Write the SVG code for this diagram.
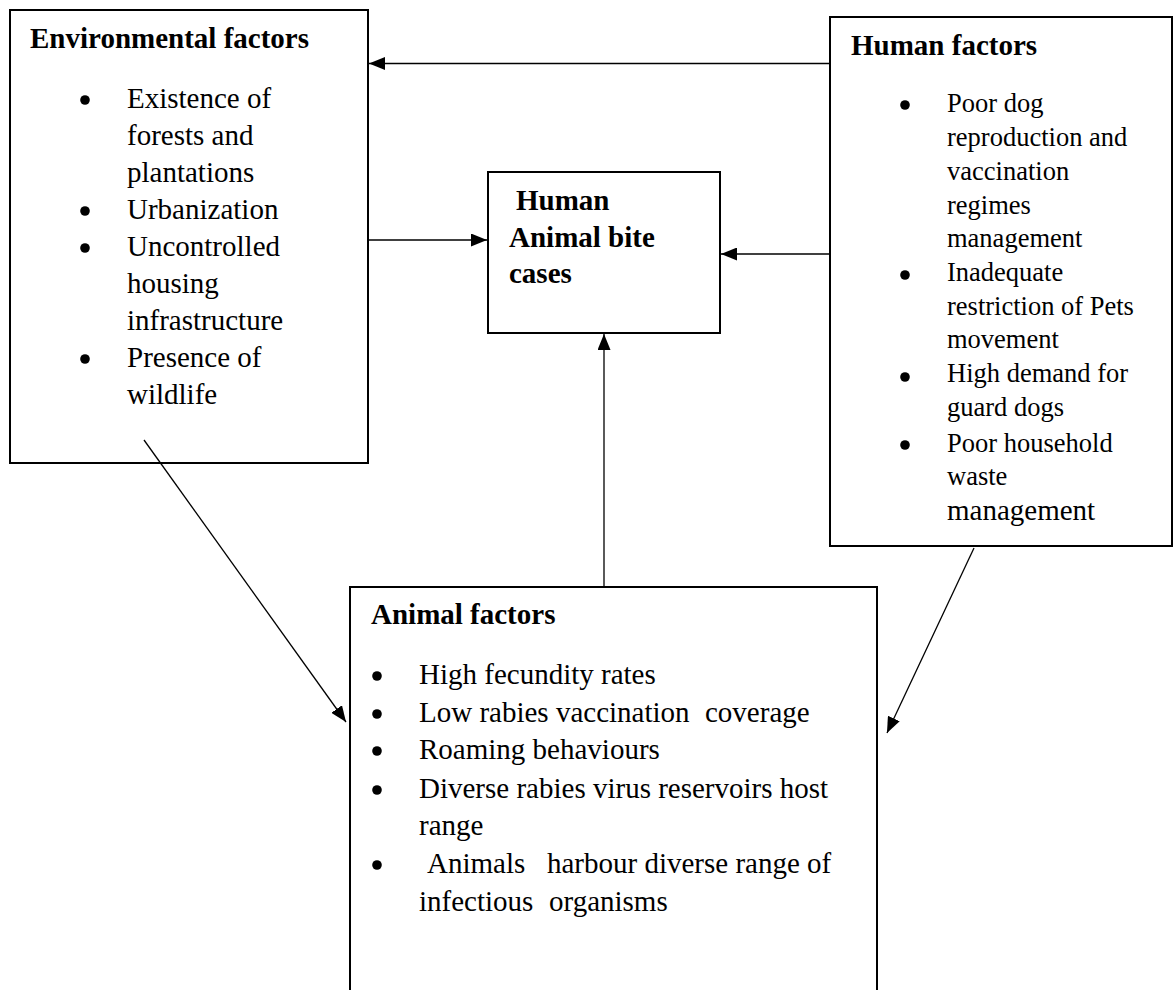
<svg xmlns="http://www.w3.org/2000/svg" width="1173" height="990" viewBox="0 0 1173 990">
<style>
text { font-family: "Liberation Serif", "Times New Roman", serif; fill: #000; }
.t { font-size: 29px; font-weight: bold; }
.b { font-size: 29px; }
.s { font-size: 26.5px; }
.box { fill: #fff; stroke: #000; stroke-width: 2; }
.dot { fill: #000; }
.con { stroke: #000; stroke-width: 1.3; fill: none; }
</style>
<defs>
<marker id="ah" markerUnits="userSpaceOnUse" markerWidth="16" markerHeight="13" refX="16" refY="6.5" orient="auto">
<path d="M0,0 L16,6.5 L0,13 Z" fill="#000"/>
</marker>
</defs>
<rect width="1173" height="990" fill="#fff"/>

<g id="env">
<rect class="box" x="10" y="10" width="358" height="453"/>
<text class="t" x="30" y="48">Environmental factors</text>
<circle class="dot" cx="85" cy="100" r="4.8"/>
<circle class="dot" cx="85" cy="211" r="4.8"/>
<circle class="dot" cx="85" cy="248" r="4.8"/>
<circle class="dot" cx="85" cy="359" r="4.8"/>
<text class="b" x="127" y="108">Existence of</text>
<text class="b" x="127" y="145">forests and</text>
<text class="b" x="127" y="182">plantations</text>
<text class="b" x="127" y="219">Urbanization</text>
<text class="b" x="127" y="256">Uncontrolled</text>
<text class="b" x="127" y="293">housing</text>
<text class="b" x="127" y="330">infrastructure</text>
<text class="b" x="127" y="367">Presence of</text>
<text class="b" x="127" y="404">wildlife</text>
</g>

<g id="human">
<rect class="box" x="830" y="17" width="342" height="529"/>
<text class="t" x="851" y="55">Human factors</text>
<circle class="dot" cx="905" cy="105" r="4.8"/>
<circle class="dot" cx="905" cy="275" r="4.8"/>
<circle class="dot" cx="905" cy="377" r="4.8"/>
<circle class="dot" cx="905" cy="445" r="4.8"/>
<text class="s" x="947" y="112">Poor dog</text>
<text class="s" x="947" y="146">reproduction and</text>
<text class="s" x="947" y="180">vaccination</text>
<text class="s" x="947" y="214">regimes</text>
<text class="s" x="947" y="247">management</text>
<text class="s" x="947" y="281">Inadequate</text>
<text class="s" x="947" y="315">restriction of Pets</text>
<text class="s" x="947" y="348">movement</text>
<text class="s" x="947" y="382">High demand for</text>
<text class="s" x="947" y="416">guard dogs</text>
<text class="s" x="947" y="452">Poor household</text>
<text class="s" x="947" y="485">waste</text>
<text class="b" x="947" y="520">management</text>
</g>

<g id="bite">
<rect class="box" x="488" y="172" width="232" height="161"/>
<text class="t" x="516" y="210">Human</text>
<text class="t" x="509" y="247">Animal bite</text>
<text class="t" x="509" y="283">cases</text>
</g>

<g id="animal">
<rect class="box" x="350" y="587" width="527" height="430"/>
<text class="t" x="371" y="624">Animal factors</text>
<circle class="dot" cx="377" cy="676" r="4.8"/>
<circle class="dot" cx="377" cy="714" r="4.8"/>
<circle class="dot" cx="377" cy="751" r="4.8"/>
<circle class="dot" cx="377" cy="790" r="4.8"/>
<circle class="dot" cx="377" cy="865" r="4.8"/>
<text class="b" x="419" y="684">High fecundity rates</text>
<text class="b" y="722"><tspan x="419">Low rabies vaccination</tspan><tspan x="705">coverage</tspan></text>
<text class="b" x="419" y="759">Roaming behaviours</text>
<text class="b" x="419" y="798">Diverse rabies virus reservoirs host</text>
<text class="b" x="419" y="835">range</text>
<text class="b" y="873"><tspan x="427">Animals</tspan><tspan x="547">harbour diverse range of</tspan></text>
<text class="b" y="911"><tspan x="419">infectious</tspan><tspan x="549">organisms</tspan></text>
</g>

<g id="connectors">
<line class="con" x1="830" y1="63.5" x2="369" y2="63.5" marker-end="url(#ah)"/>
<line class="con" x1="368" y1="240" x2="487" y2="240" marker-end="url(#ah)"/>
<line class="con" x1="830" y1="254" x2="721" y2="254" marker-end="url(#ah)"/>
<line class="con" x1="604" y1="587" x2="604" y2="334" marker-end="url(#ah)"/>
<line class="con" x1="144" y1="440" x2="346" y2="722" marker-end="url(#ah)"/>
<line class="con" x1="974" y1="548" x2="887" y2="733" marker-end="url(#ah)"/>
</g>
</svg>
